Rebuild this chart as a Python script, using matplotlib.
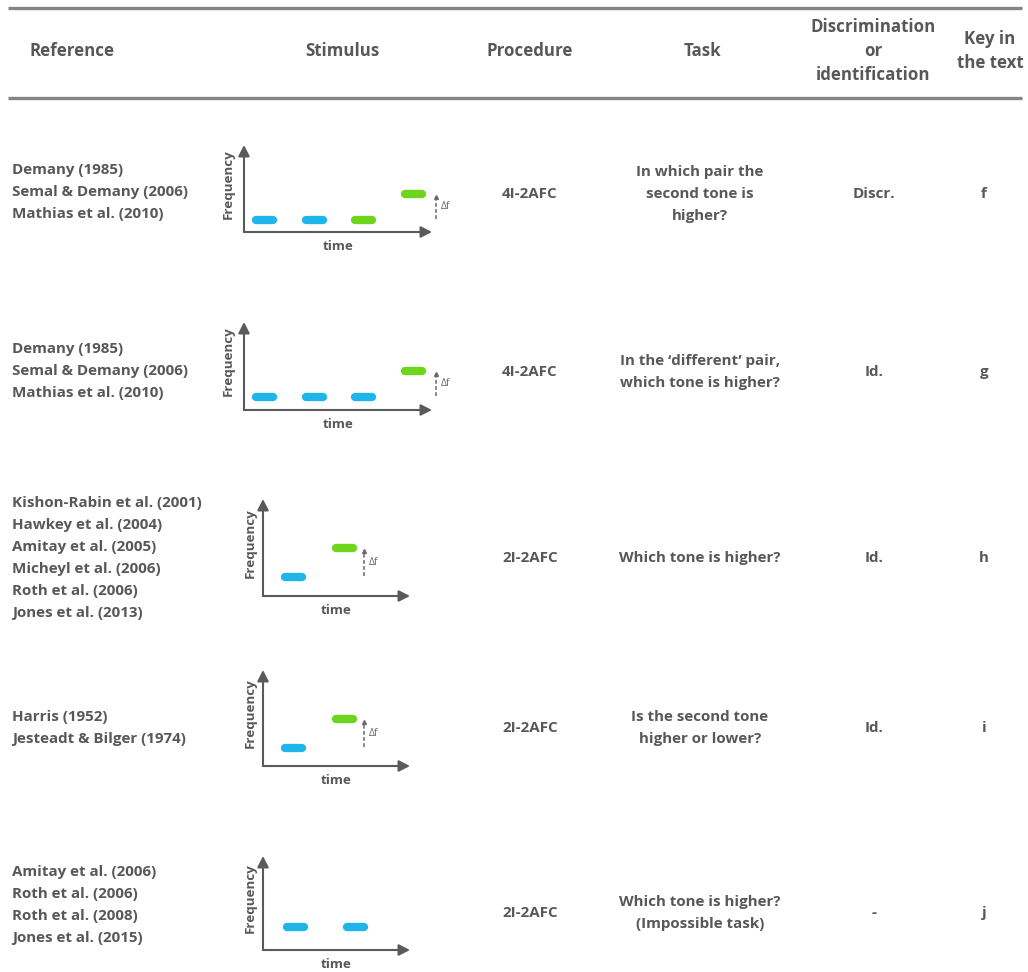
import matplotlib
matplotlib.use("Agg")
import matplotlib.pyplot as plt
from matplotlib.transforms import offset_copy

plt.rcParams['font.family'] = ['Open Sans', 'DejaVu Sans']

# ---------------- data ----------------
headers = ["Reference", "Stimulus", "Procedure", "Task",
           "Discrimination\nor\nidentification", "Key in\nthe text"]

references = [
    ["Demany (1985)", "Semal & Demany (2006)", "Mathias et al. (2010)"],
    ["Demany (1985)", "Semal & Demany (2006)", "Mathias et al. (2010)"],
    ["Kishon-Rabin et al. (2001)", "Hawkey et al. (2004)", "Amitay et al. (2005)",
     "Micheyl et al. (2006)", "Roth et al. (2006)", "Jones et al. (2013)"],
    ["Harris (1952)", "Jesteadt & Bilger (1974)"],
    ["Amitay et al. (2006)", "Roth et al. (2006)", "Roth et al. (2008)", "Jones et al. (2015)"],
]
procedures = ["4I-2AFC", "4I-2AFC", "2I-2AFC", "2I-2AFC", "2I-2AFC"]
tasks = [
    ["In which pair the", "second tone is", "higher?"],
    ["In the \u2018different\u2019 pair,", "which tone is higher?"],
    ["Which tone is higher?"],
    ["Is the second tone", "higher or lower?"],
    ["Which tone is higher?", "(Impossible task)"],
]
disc_ident = ["Discr.", "Id.", "Id.", "Id.", "-"]
keys = ["f", "g", "h", "i", "j"]

# stimulus tones per row: time index, frequency level, kind (s = standard, t = target)
tone_times = [[1, 2, 3, 4], [1, 2, 3, 4], [1, 2], [1, 2], [1, 2]]
tone_freqs = [[1, 1, 1, 2], [1, 1, 1, 2], [1, 2], [1, 2], [1, 1]]
tone_kinds = [["s", "s", "t", "t"], ["s", "s", "s", "t"], ["s", "t"], ["s", "t"], ["s", "s"]]
show_delta_f = [True, True, True, True, False]

# ---------------- style / layout ----------------
TEXT = "#585858"
AXC = "#5a5a5a"
BLUE = "#1db5ea"
GREEN = "#6dd51c"
RULE = "#858585"

W, H = 1028, 972
fig = plt.figure(figsize=(W / 100, H / 100), dpi=100)
bg = fig.add_axes([0, 0, 1, 1])
bg.set_xlim(0, W)
bg.set_ylim(H, 0)
bg.axis("off")

# rules
bg.plot([8, 1022], [8, 8], color=RULE, lw=2.4, solid_capstyle="butt")
bg.plot([8, 1022], [98, 98], color=RULE, lw=2.4, solid_capstyle="butt")

LINE = 22.0
FS = 10.9
HFS = 12.2

def multiline(x, yc, lines, ha="center", fs=FS, pitch=LINE, weight="bold"):
    n = len(lines)
    for i, s in enumerate(lines):
        y = yc + (i - (n - 1) / 2) * pitch
        bg.text(x, y, s, ha=ha, va="center", fontsize=fs, color=TEXT,
                fontweight=weight)

# headers
header_x = [72, 342, 530, 703, 873, 990]
for x, h in zip(header_x, headers):
    multiline(x, 51, h.split("\n"), fs=HFS, pitch=24)

ref_y = [192, 371, 558, 728, 905]
row_y = [194, 372, 558, 728, 913]
for r in range(5):
    multiline(12, ref_y[r], references[r], ha="left")
    multiline(530, row_y[r], [procedures[r]])
    multiline(700, row_y[r], tasks[r])
    multiline(874, row_y[r], [disc_ident[r]])
    multiline(984, row_y[r], [keys[r]])

# stimulus panels: pixel boxes (left, bottom, right, top) and data limits
boxes = [(244, 232, 432, 145), (244, 410, 432, 322), (263, 596, 410, 499),
         (263, 766, 410, 670), (263, 950, 410, 856)]
xlims = [(0.59, 4.37), (0.59, 4.37), (0.40, 3.28), (0.40, 3.28), (0.45, 2.92)]
ylims = [(0.54, 3.88), (0.50, 3.88), (0.33, 3.67), (0.38, 3.68), (0.21, 3.48)]
freq_label_dx = [16, 16, 13, 13, 13]

for r in range(5):
    l, b, rr, t = boxes[r]
    ax = fig.add_axes([l / W, 1 - b / H, (rr - l) / W, (b - t) / H])
    ax.set_xlim(*xlims[r])
    ax.set_ylim(*ylims[r])
    ax.axis("off")
    # axes arrows
    arrow = dict(arrowstyle="-|>,head_length=0.55,head_width=0.28", color=AXC,
                 lw=1.5, shrinkA=0, shrinkB=0, mutation_scale=12)
    ax.annotate("", xy=(1, 0), xytext=(0, 0), xycoords="axes fraction",
                textcoords="axes fraction", arrowprops=arrow, annotation_clip=False)
    ax.annotate("", xy=(0, 1), xytext=(0, 0), xycoords="axes fraction",
                textcoords="axes fraction", arrowprops=arrow, annotation_clip=False)
    # tones
    px_per_unit = (rr - l) / (xlims[r][1] - xlims[r][0])
    half = 8.5 / px_per_unit
    for tt, ff, kk in zip(tone_times[r], tone_freqs[r], tone_kinds[r]):
        ax.plot([tt - half, tt + half], [ff, ff], color=BLUE if kk == "s" else GREEN,
                lw=6.0, solid_capstyle="round")
    # delta f marker
    if show_delta_f[r]:
        tlast = tone_times[r][-1]
        flo, fhi = min(tone_freqs[r]), max(tone_freqs[r])
        tr = offset_copy(ax.transData, fig=fig, x=14 if r < 2 else 11, y=0, units="dots")
        ax.plot([tlast + half, tlast + half], [flo + 0.02, fhi - 0.12], color="#6a6a6a",
                lw=1.1, ls=(0, (2.5, 1.5)), transform=tr, clip_on=False)
        ax.plot([tlast + half], [fhi - 0.12], marker="^", ms=2.8, color="#6a6a6a",
                transform=tr, clip_on=False)
        tr2 = offset_copy(ax.transData, fig=fig, x=19 if r < 2 else 16, y=0, units="dots")
        ax.text(tlast + half, (flo + fhi) / 2, "\u0394f", transform=tr2, fontsize=7.5,
                color="#6a6a6a", ha="left", va="center", clip_on=False,
                family=["Open Sans", "DejaVu Sans"])
    # labels
    ax.text(-freq_label_dx[r] / (rr - l), 0.55, "Frequency", transform=ax.transAxes,
            rotation=90, ha="center", va="center", fontsize=9.6, color=TEXT,
            fontweight="bold")
    ax.text(0.5, -14 / (b - t), "time", transform=ax.transAxes, ha="center",
            va="center", fontsize=9.6, color=TEXT, fontweight="bold")

fig.savefig("out.png", dpi=100)
